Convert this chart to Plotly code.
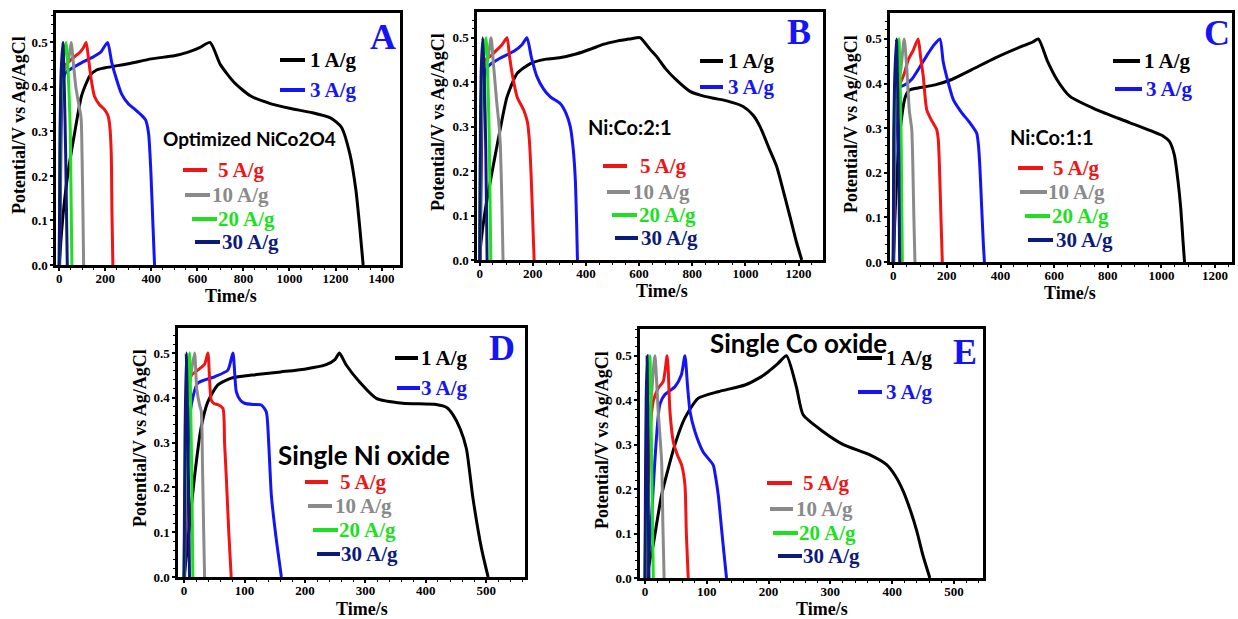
import plotly.graph_objects as go

W, H = 1238, 619

RATES = ["1 A/g", "3 A/g", "5 A/g", "10 A/g", "20 A/g", "30 A/g"]
COLORS = ["#000000", "#1414f5", "#f01414", "#8a8a8a", "#1ee01e", "#0c1a7a"]
PANEL_LETTERS = ["A", "B", "C", "D", "E"]
PANEL_NOTES = ["Optimized NiCo2O4", "Ni:Co:2:1", "Ni:Co:1:1", "Single Ni oxide", "Single Co oxide"]
X_LABEL = "Time/s"
Y_LABEL = "Potential/V vs Ag/AgCl"

# ---------------- Panel A (optimized NiCo2O4) ----------------
A1_t = [0, 8, 20, 39, 68, 97, 133, 162, 200, 300, 400, 500, 560, 610, 655, 700, 760, 830, 920, 1000, 1100, 1180, 1225, 1262, 1288, 1306, 1320]
A1_v = [0, 0.06, 0.13, 0.21, 0.30, 0.38, 0.425, 0.438, 0.443, 0.452, 0.463, 0.470, 0.478, 0.488, 0.5, 0.45, 0.41, 0.38, 0.362, 0.352, 0.342, 0.330, 0.31, 0.25, 0.17, 0.08, 0]
A3_t = [2, 6, 12, 25, 50, 100, 150, 180, 210, 228, 247, 270, 300, 330, 360, 375, 388, 398, 407, 414]
A3_v = [0, 0.2, 0.38, 0.43, 0.44, 0.455, 0.468, 0.478, 0.5, 0.455, 0.42, 0.385, 0.362, 0.349, 0.335, 0.326, 0.296, 0.21, 0.09, 0]
A5_t = [1, 4, 8, 15, 30, 60, 90, 105, 117, 128, 139, 153, 175, 197, 212, 220, 226, 229, 233]
A5_v = [0, 0.2, 0.38, 0.43, 0.45, 0.465, 0.478, 0.488, 0.5, 0.46, 0.416, 0.379, 0.36, 0.349, 0.335, 0.31, 0.25, 0.12, 0]
A10_t = [0, 3, 8, 15, 25, 35, 45, 52, 62, 72, 85, 95, 99, 103, 106]
A10_v = [0, 0.25, 0.4, 0.43, 0.44, 0.45, 0.475, 0.5, 0.45, 0.40, 0.36, 0.33, 0.25, 0.12, 0]
A20_t = [0, 5, 12, 30, 40, 48, 55]
A20_v = [0, 0.3, 0.43, 0.5, 0.42, 0.3, 0]
A30_t = [0, 4, 8, 16, 22, 28, 35]
A30_v = [0, 0.3, 0.43, 0.5, 0.4, 0.25, 0]

# ---------------- Panel B (Ni:Co 2:1) ----------------
B1_t = [0, 5, 21, 53, 84, 103, 141, 191, 250, 300, 366, 420, 465, 520, 570, 590, 605, 640, 667, 700, 742, 790, 830, 880, 930, 993, 1030, 1055, 1090, 1118, 1145, 1168, 1190, 1212]
B1_v = [0, 0.04, 0.112, 0.218, 0.315, 0.367, 0.42, 0.442, 0.452, 0.455, 0.464, 0.475, 0.485, 0.493, 0.498, 0.5, 0.5, 0.475, 0.457, 0.43, 0.404, 0.38, 0.371, 0.364, 0.358, 0.345, 0.325, 0.3, 0.25, 0.21, 0.15, 0.097, 0.045, 0]
B3_t = [2, 6, 12, 25, 40, 80, 130, 160, 178, 195, 216, 240, 266, 303, 325, 341, 352, 360, 365, 368]
B3_v = [0, 0.2, 0.38, 0.43, 0.44, 0.455, 0.47, 0.485, 0.5, 0.455, 0.412, 0.385, 0.367, 0.352, 0.33, 0.3, 0.25, 0.18, 0.08, 0]
B5_t = [1, 4, 8, 20, 40, 60, 85, 103, 112, 122, 141, 166, 180, 187, 193, 198, 202, 205]
B5_v = [0, 0.2, 0.38, 0.45, 0.458, 0.47, 0.485, 0.5, 0.46, 0.42, 0.367, 0.337, 0.31, 0.27, 0.2, 0.12, 0.05, 0]
B10_t = [0, 3, 8, 15, 30, 43, 52, 65, 72, 78, 84, 88]
B10_v = [0, 0.25, 0.4, 0.43, 0.45, 0.5, 0.44, 0.35, 0.31, 0.255, 0.12, 0]
B20_t = [0, 4, 10, 24, 30, 36, 42]
B20_v = [0, 0.3, 0.43, 0.5, 0.42, 0.28, 0]
B30_t = [0, 3, 6, 12, 18, 23, 28]
B30_v = [0, 0.3, 0.43, 0.5, 0.4, 0.25, 0]

# ---------------- Panel C (Ni:Co 1:1) ----------------
C1_t = [0, 10, 25, 45, 60, 93, 156, 218, 293, 379, 466, 520, 541, 575, 610, 659, 759, 883, 1007, 1030, 1048, 1062, 1072, 1080, 1086]
C1_v = [0, 0.15, 0.29, 0.37, 0.385, 0.39, 0.397, 0.409, 0.431, 0.457, 0.48, 0.493, 0.5, 0.45, 0.409, 0.371, 0.341, 0.312, 0.282, 0.27, 0.24, 0.18, 0.12, 0.05, 0]
C3_t = [2, 5, 10, 19, 44, 70, 93, 131, 150, 174, 186, 199, 224, 255, 286, 311, 318, 323, 330, 336, 340]
C3_v = [0, 0.15, 0.33, 0.39, 0.397, 0.41, 0.431, 0.468, 0.485, 0.5, 0.45, 0.416, 0.364, 0.335, 0.312, 0.289, 0.26, 0.214, 0.12, 0.04, 0]
C5_t = [1, 4, 8, 19, 40, 56, 75, 93, 102, 112, 125, 145, 162, 168, 172, 176, 180, 183]
C5_v = [0, 0.2, 0.35, 0.39, 0.42, 0.453, 0.475, 0.5, 0.46, 0.416, 0.341, 0.315, 0.297, 0.274, 0.22, 0.14, 0.06, 0]
C10_t = [0, 3, 8, 15, 28, 41, 50, 60, 69, 73, 77, 81]
C10_v = [0, 0.22, 0.36, 0.39, 0.43, 0.5, 0.44, 0.34, 0.297, 0.22, 0.1, 0]
C20_t = [0, 3, 8, 21, 26, 30, 34]
C20_v = [0, 0.28, 0.4, 0.5, 0.4, 0.25, 0]
C30_t = [0, 2, 5, 12, 17, 21, 24]
C30_v = [0, 0.28, 0.4, 0.5, 0.38, 0.22, 0]

# ---------------- Panel D (single Ni oxide) ----------------
D1_t = [0, 5, 10, 17, 28, 39, 56, 78, 120, 160, 199, 235, 250, 257, 268, 290, 318, 362, 417, 435, 445, 457, 467, 478, 492, 503]
D1_v = [0, 0.06, 0.13, 0.22, 0.332, 0.39, 0.429, 0.444, 0.452, 0.458, 0.464, 0.474, 0.486, 0.5, 0.474, 0.436, 0.399, 0.388, 0.385, 0.378, 0.362, 0.33, 0.287, 0.175, 0.064, 0]
D3_t = [1, 4, 8, 12, 22.8, 50.5, 72.5, 80.8, 86.4, 93, 100, 115, 127.8, 136, 140, 144.4, 152, 158, 161]
D3_v = [0, 0.15, 0.33, 0.384, 0.433, 0.447, 0.462, 0.5, 0.414, 0.395, 0.388, 0.385, 0.384, 0.369, 0.3, 0.183, 0.09, 0.03, 0]
D5_t = [0.5, 3, 6, 12, 22.8, 34, 39.4, 45, 50, 56, 64.2, 67, 70, 74, 78]
D5_v = [0, 0.2, 0.4, 0.45, 0.462, 0.475, 0.5, 0.395, 0.387, 0.385, 0.377, 0.3, 0.22, 0.1, 0]
D10_t = [0, 2, 5, 10, 17.4, 21, 25.7, 28.5, 30.5, 32.5, 34]
D10_v = [0, 0.2, 0.38, 0.44, 0.5, 0.42, 0.384, 0.37, 0.25, 0.1, 0]
D20_t = [0, 2, 4, 9, 11, 13, 14.6]
D20_v = [0, 0.25, 0.4, 0.5, 0.38, 0.2, 0]
D30_t = [0, 1.5, 3.6, 5.5, 7.5, 9]
D30_v = [0, 0.3, 0.5, 0.38, 0.2, 0]

# ---------------- Panel E (single Co oxide) ----------------
E1_t = [3, 8, 13.4, 27, 48.5, 64.7, 86, 118.6, 161.8, 185, 199.5, 215, 229, 245, 256, 288.5, 321, 364, 391, 405, 418, 430, 440, 450, 461]
E1_v = [0, 0.04, 0.075, 0.187, 0.3, 0.36, 0.404, 0.419, 0.434, 0.45, 0.464, 0.482, 0.5, 0.43, 0.367, 0.329, 0.3, 0.277, 0.255, 0.23, 0.195, 0.15, 0.105, 0.05, 0]
E3_t = [2, 6, 10, 16, 24, 32, 48.5, 59, 64.7, 69, 73, 81, 94, 110.5, 114, 118.6, 124, 129, 132]
E3_v = [0, 0.05, 0.12, 0.262, 0.39, 0.412, 0.43, 0.457, 0.5, 0.43, 0.374, 0.329, 0.284, 0.254, 0.23, 0.187, 0.11, 0.04, 0]
E5_t = [1, 5, 10, 13.4, 21.5, 29.6, 36, 40.5, 45.8, 53, 59.4, 64.7, 67, 70]
E5_v = [0, 0.2, 0.36, 0.397, 0.427, 0.442, 0.5, 0.374, 0.307, 0.275, 0.254, 0.21, 0.1, 0]
E10_t = [0, 3, 6, 10, 16, 21.5, 27, 29, 31]
E10_v = [0, 0.2, 0.35, 0.4, 0.5, 0.374, 0.262, 0.12, 0]
E20_t = [0, 2, 4, 8, 10, 12, 13.5]
E20_v = [0, 0.25, 0.4, 0.5, 0.35, 0.15, 0]
E30_t = [0, 1, 2, 3.5, 4.5, 5.5, 6.5]
E30_v = [0, 0.25, 0.4, 0.5, 0.35, 0.15, 0]

SERIES = {
    "A": [(A1_t, A1_v), (A3_t, A3_v), (A5_t, A5_v), (A10_t, A10_v), (A20_t, A20_v), (A30_t, A30_v)],
    "B": [(B1_t, B1_v), (B3_t, B3_v), (B5_t, B5_v), (B10_t, B10_v), (B20_t, B20_v), (B30_t, B30_v)],
    "C": [(C1_t, C1_v), (C3_t, C3_v), (C5_t, C5_v), (C10_t, C10_v), (C20_t, C20_v), (C30_t, C30_v)],
    "D": [(D1_t, D1_v), (D3_t, D3_v), (D5_t, D5_v), (D10_t, D10_v), (D20_t, D20_v), (D30_t, D30_v)],
    "E": [(E1_t, E1_v), (E3_t, E3_v), (E5_t, E5_v), (E10_t, E10_v), (E20_t, E20_v), (E30_t, E30_v)],
}

# ---------------- Layout geometry (pixels) ----------------
GEOM = {
    "A": dict(box=(56, 400, 13, 265), xr=[-14, 1480], yr=[0, 0.566], dt=200, mdt=50),
    "B": dict(box=(477, 823, 12, 260), xr=[-10, 1292], yr=[0, 0.558], dt=200, mdt=50),
    "C": dict(box=(890, 1232, 13, 262), xr=[-12, 1263], yr=[0, 0.558], dt=200, mdt=50),
    "D": dict(box=(178, 525, 328, 577), xr=[-10, 564], yr=[0, 0.556], dt=100, mdt=20),
    "E": dict(box=(640, 983, 329, 578), xr=[-8, 547], yr=[0, 0.56], dt=100, mdt=20),
}
LEG = {
    "A": [(280, 305, 60, 308), (280, 305, 90, 308), (183, 207, 170, 216), (185, 210, 195, 210), (192, 217, 219, 216), (195, 220, 242, 220)],
    "B": [(700, 723, 61, 726), (700, 723, 87, 726), (603, 627, 166, 638), (607, 630, 192, 631), (612, 637, 215, 637), (615, 638, 238, 639)],
    "C": [(1113, 1140, 61, 1142), (1115, 1142, 89, 1144), (1018, 1043, 168, 1051), (1020, 1047, 192, 1046), (1025, 1050, 216, 1050), (1028, 1053, 240, 1054)],
    "D": [(395, 418, 358, 419), (397, 420, 388, 419), (305, 328, 482, 338), (308, 332, 506, 333), (313, 338, 530, 337), (317, 340, 554, 339)],
    "E": [(857, 882, 358, 884), (858, 882, 392, 884), (767, 792, 483, 801), (770, 793, 509, 794), (773, 798, 533, 797), (778, 802, 556, 801)],
}
LETTER_POS = {"A": (383, 37), "B": (799, 32), "C": (1217, 33), "D": (502, 348), "E": (965, 352)}
NOTE_POS = {"A": (250, 138, 19), "B": (630, 127, 20), "C": (1052, 137, 20), "D": (364, 455, 26), "E": (798, 343, 26)}
YT_POS = {"A": (19, 125), "B": (438, 122), "C": (851, 124), "D": (140, 438), "E": (602, 440)}
XT_POS = {"A": (231, 296), "B": (662, 291), "C": (1070, 293), "D": (362, 609), "E": (822, 609)}

SERIF = "Liberation Serif"
SANS = "Lato"


def px(x):
    return x / W


def py(y):
    return 1 - y / H


fig = go.Figure()
annotations = []
shapes = []

for i, p in enumerate(PANEL_LETTERS):
    g = GEOM[p]
    l, r, t, b = g["box"]
    sfx = "" if i == 0 else str(i + 1)
    xa, ya = "x" + sfx, "y" + sfx
    for k, (tt, vv) in enumerate(SERIES[p]):
        fig.add_trace(go.Scatter(
            x=tt, y=vv, xaxis=xa, yaxis=ya, mode="lines",
            line=dict(color=COLORS[k], width=3, shape="spline", smoothing=0.6),
            name=f"{p} {RATES[k]}", showlegend=False, hoverinfo="skip"))
    axcommon = dict(showline=True, linecolor="black", linewidth=2.5, mirror=True,
                    ticks="outside", ticklen=3, tickwidth=1.5, tickcolor="black",
                    showgrid=False, zeroline=False, automargin=False,
                    tickfont=dict(family=SERIF, size=13, color="black", weight="bold"))
    fig.layout["xaxis" + sfx] = dict(
        domain=[px(l), px(r)], anchor=ya, range=g["xr"], dtick=g["dt"], tick0=0,
        minor=dict(ticks="outside", ticklen=2.5, tickwidth=1.2, tickcolor="black", dtick=g["mdt"]),
        **axcommon)
    fig.layout["yaxis" + sfx] = dict(
        domain=[py(b), py(t)], anchor=xa, range=g["yr"], dtick=0.1, tick0=0, tickformat=".1f",
        minor=dict(ticks="outside", ticklen=2.5, tickwidth=1.2, tickcolor="black", dtick=0.02),
        **axcommon)
    try:
        fig.layout["xaxis" + sfx].ticklabelstandoff = -3
    except Exception:
        pass

    for k, (x0, x1, yy, tx) in enumerate(LEG[p]):
        shapes.append(dict(type="line", xref="paper", yref="paper", x0=px(x0), x1=px(x1),
                           y0=py(yy), y1=py(yy), line=dict(color=COLORS[k], width=4)))
        annotations.append(dict(xref="paper", yref="paper", x=px(tx), y=py(yy), text=f"<b>{RATES[k]}</b>",
                                showarrow=False, xanchor="left", yanchor="middle",
                                font=dict(family=SERIF, size=21, color=COLORS[k])))
    lx, ly = LETTER_POS[p]
    annotations.append(dict(xref="paper", yref="paper", x=px(lx), y=py(ly), text=f"<b>{p}</b>",
                            showarrow=False, xanchor="center", yanchor="middle",
                            font=dict(family=SERIF, size=36, color="#1414f5")))
    nx, ny, ns = NOTE_POS[p]
    annotations.append(dict(xref="paper", yref="paper", x=px(nx), y=py(ny), text=f"<b>{PANEL_NOTES[i]}</b>",
                            showarrow=False, xanchor="center", yanchor="middle",
                            font=dict(family=SANS, size=ns, color="black")))
    yx, yy = YT_POS[p]
    annotations.append(dict(xref="paper", yref="paper", x=px(yx), y=py(yy), text=f"<b>{Y_LABEL}</b>",
                            showarrow=False, textangle=-90, xanchor="center", yanchor="middle",
                            font=dict(family=SERIF, size=18, color="black")))
    xx, xy = XT_POS[p]
    annotations.append(dict(xref="paper", yref="paper", x=px(xx), y=py(xy), text=f"<b>{X_LABEL}</b>",
                            showarrow=False, xanchor="center", yanchor="middle",
                            font=dict(family=SERIF, size=18, color="black")))

fig.update_layout(width=W, height=H, margin=dict(l=0, r=0, t=0, b=0),
                  paper_bgcolor="white", plot_bgcolor="white", showlegend=False,
                  annotations=annotations, shapes=shapes)

fig.write_html("out.html")
